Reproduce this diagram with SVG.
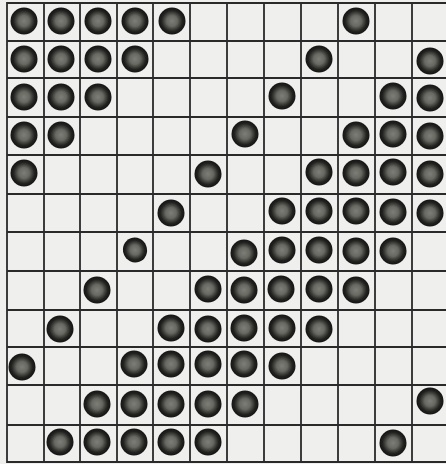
<svg xmlns="http://www.w3.org/2000/svg" width="446" height="464" viewBox="0 0 446 464">
<defs>
<radialGradient id="g" cx="50%" cy="50%" r="50%">
<stop offset="0%" stop-color="#7e7e78"/>
<stop offset="40%" stop-color="#686862"/>
<stop offset="62%" stop-color="#3e3e3a"/>
<stop offset="78%" stop-color="#222220"/>
<stop offset="100%" stop-color="#141414"/>
</radialGradient>
<style>
.g{stroke:#2a2a2a;stroke-width:1.8;fill:none}
.c{fill:url(#g)}
</style>
</defs>
<rect width="446" height="464" fill="#efefed"/>
<g id="grid">
<path class="g" d="M7 2V463M44 3V462M80 3V462M117 3V462M153 3V462M190 3V462M227 3V462M264 3V462M301 3V462M338 3V462M375 3V462M412 3V462"/>
<path class="g" d="M7 3H446M7 41H446M7 78H446M7 117H446M7 155H446M7 194H446M7 232H446M7 271H446M7 310H446M7 347H446M7 385H446M7 425H446M7 462H446"/>
</g>
<g id="counters">
<!-- row 0 -->
<circle class="c" cx="24" cy="21" r="13.5"/><circle class="c" cx="61" cy="21" r="13.5"/><circle class="c" cx="98" cy="21" r="13.5"/><circle class="c" cx="135" cy="21" r="13.5"/><circle class="c" cx="172" cy="21" r="13.5"/><circle class="c" cx="356" cy="21" r="13.5"/>
<!-- row 1 -->
<circle class="c" cx="24" cy="59" r="13.5"/><circle class="c" cx="61" cy="59" r="13.5"/><circle class="c" cx="98" cy="59" r="13.5"/><circle class="c" cx="135" cy="59" r="13.5"/><circle class="c" cx="319" cy="59" r="13.5"/><circle class="c" cx="430" cy="61" r="13.5"/>
<!-- row 2 -->
<circle class="c" cx="24" cy="97" r="13.5"/><circle class="c" cx="61" cy="97" r="13.5"/><circle class="c" cx="98" cy="97" r="13.5"/><circle class="c" cx="282" cy="96" r="13.5"/><circle class="c" cx="393" cy="96" r="13.5"/><circle class="c" cx="430" cy="98" r="13.5"/>
<!-- row 3 -->
<circle class="c" cx="24" cy="135" r="13.5"/><circle class="c" cx="61" cy="135" r="13.5"/><circle class="c" cx="245" cy="134" r="13.5"/><circle class="c" cx="356" cy="135" r="13.5"/><circle class="c" cx="393" cy="134" r="13.5"/><circle class="c" cx="430" cy="136" r="13.5"/>
<!-- row 4 -->
<circle class="c" cx="24" cy="173" r="13.5"/><circle class="c" cx="208" cy="174" r="13.5"/><circle class="c" cx="319" cy="172" r="13.5"/><circle class="c" cx="356" cy="173" r="13.5"/><circle class="c" cx="393" cy="172" r="13.5"/><circle class="c" cx="430" cy="174" r="13.5"/>
<!-- row 5 -->
<circle class="c" cx="171" cy="213" r="13.5"/><circle class="c" cx="282" cy="211" r="13.5"/><circle class="c" cx="319" cy="211" r="13.5"/><circle class="c" cx="356" cy="211" r="13.5"/><circle class="c" cx="393" cy="212" r="13.5"/><circle class="c" cx="430" cy="213" r="13.5"/>
<!-- row 6 -->
<ellipse class="c" cx="135" cy="250" rx="12" ry="12.5" transform="rotate(-20 135 250)"/><circle class="c" cx="244" cy="253" r="13.5"/><circle class="c" cx="282" cy="250" r="13.5"/><circle class="c" cx="319" cy="250" r="13.5"/><circle class="c" cx="356" cy="251" r="13.5"/><circle class="c" cx="393" cy="251" r="13.5"/>
<!-- row 7 -->
<circle class="c" cx="97" cy="290" r="13.5"/><circle class="c" cx="208" cy="289" r="13.5"/><circle class="c" cx="244" cy="290" r="13.5"/><circle class="c" cx="281" cy="289" r="13.5"/><circle class="c" cx="319" cy="289" r="13.5"/><circle class="c" cx="356" cy="290" r="13.5"/>
<!-- row 8 -->
<circle class="c" cx="60" cy="329" r="13.5"/><circle class="c" cx="171" cy="328" r="13.5"/><circle class="c" cx="208" cy="329" r="13.5"/><circle class="c" cx="244" cy="328" r="13.5"/><circle class="c" cx="282" cy="328" r="13.5"/><circle class="c" cx="319" cy="329" r="13.5"/>
<!-- row 9 -->
<circle class="c" cx="22" cy="367" r="13.5"/><circle class="c" cx="134" cy="364" r="13.5"/><circle class="c" cx="171" cy="364" r="13.5"/><circle class="c" cx="208" cy="364" r="13.5"/><circle class="c" cx="244" cy="364" r="13.5"/><circle class="c" cx="282" cy="366" r="13.5"/>
<!-- row 10 -->
<circle class="c" cx="97" cy="404" r="13.5"/><circle class="c" cx="134" cy="404" r="13.5"/><circle class="c" cx="171" cy="404" r="13.5"/><circle class="c" cx="208" cy="404" r="13.5"/><circle class="c" cx="245" cy="404" r="13.5"/><circle class="c" cx="430" cy="401" r="13.5"/>
<!-- row 11 -->
<circle class="c" cx="60" cy="442" r="13.5"/><circle class="c" cx="97" cy="442" r="13.5"/><circle class="c" cx="134" cy="442" r="13.5"/><circle class="c" cx="171" cy="442" r="13.5"/><circle class="c" cx="208" cy="442" r="13.5"/><circle class="c" cx="393" cy="443" r="13.5"/>
</g>
</svg>
